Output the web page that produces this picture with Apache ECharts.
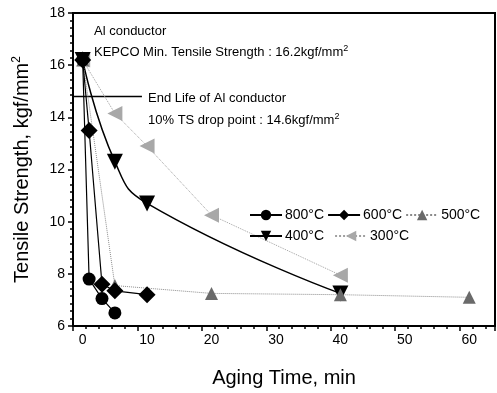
<!DOCTYPE html>
<html>
<head>
<meta charset="utf-8">
<script src="https://cdn.jsdelivr.net/npm/echarts@6/dist/echarts.min.js"></script>
<style>
  html, body { margin: 0; padding: 0; background: #fff; }
  #chart { width: 497px; height: 393px; }
</style>
</head>
<body>
<div id="chart"></div>
<script>
// aging time (min) / tensile strength (kgf/mm2)
const t800 = [0, 1, 3, 5]
const s800 = [16.2, 7.8, 7.05, 6.5]
const t600 = [0, 1, 3, 5, 10]
const s600 = [16.2, 13.5, 7.6, 7.35, 7.2]
const t500 = [0, 5, 20, 40, 60]
const s500 = [16.2, 7.55, 7.25, 7.2, 7.1]
const t400 = [0, 5, 10, 40]
const s400 = [16.2, 12.3, 10.7, 7.25]
const t300 = [0, 5, 10, 20, 40]
const s300 = [16.2, 14.15, 12.9, 10.25, 7.95]
const endLifeX = [-1.5, 9.2]
const endLifeY = 14.8

const pairs = (xs, ys) => xs.map((x, i) => [x, ys[i]])
const font = 'Liberation Sans, Arial, sans-serif'

const chart = echarts.init(document.getElementById('chart'))

const series = [
  {
    name: '300°C', data: pairs(t300, s300),
    symbol: 'triangle', symbolRotate: 90, symbolSize: 15,
    itemStyle: { color: '#a8a8a8' },
    lineStyle: { color: '#a0a0a0', width: 1, type: 'dotted' }
  },
  {
    name: '400°C', data: pairs(t400, s400),
    symbol: 'triangle', symbolRotate: 180, symbolSize: 16, smooth: 0.5,
    itemStyle: { color: '#000' },
    lineStyle: { color: '#000', width: 1.5 }
  },
  {
    name: '500°C', data: pairs(t500, s500),
    symbol: 'triangle', symbolSize: 13,
    itemStyle: { color: '#6a6a6a' },
    lineStyle: { color: '#8a8a8a', width: 1, type: 'dotted' }
  },
  {
    name: '600°C', data: pairs(t600, s600),
    symbol: 'diamond', symbolSize: 17,
    itemStyle: { color: '#000' },
    lineStyle: { color: '#000', width: 1.2 }
  },
  {
    name: '800°C', data: pairs(t800, s800),
    symbol: 'circle', symbolSize: 13,
    itemStyle: { color: '#000' },
    lineStyle: { color: '#000', width: 1.2 }
  },
  {
    name: 'endlife', data: endLifeX.map(x => [x, endLifeY]),
    symbol: 'none', lineStyle: { color: '#000', width: 1.5 }, z: 1
  }
].map(s => ({ type: 'line', showSymbol: s.symbol !== 'none', ...s }))

const legendText = { fontSize: 14, color: '#000', fontFamily: font, padding: [0, 0, 0, -2] }

chart.setOption({
  animation: false,
  textStyle: { fontFamily: font },
  grid: { left: 73, right: 2, top: 13, bottom: 65, show: true, borderColor: '#000', borderWidth: 2 },
  legend: [
    {
      data: ['800°C', '600°C', '500°C'], left: 244, top: 203, width: 260,
      itemWidth: 32, itemHeight: 13, itemGap: 3,
      textStyle: legendText
    },
    {
      data: ['400°C', '300°C'], left: 244, top: 224, width: 260,
      itemWidth: 32, itemHeight: 13, itemGap: 10,
      textStyle: legendText
    }
  ],
  xAxis: {
    type: 'value', min: -1.5, max: 64, interval: 10,
    name: 'Aging Time, min', nameLocation: 'middle', nameGap: 42,
    nameTextStyle: { fontSize: 20, color: '#000', fontFamily: font },
    axisLine: { onZero: false, lineStyle: { color: '#000', width: 2 } },
    axisTick: { show: true, length: 5, lineStyle: { color: '#000', width: 1.5 } },
    minorTick: { show: true, splitNumber: 5, length: 3, lineStyle: { color: '#000', width: 1.5 } },
    axisLabel: { fontSize: 14, color: '#000', margin: 7, customValues: [0, 10, 20, 30, 40, 50, 60] },
    splitLine: { show: false }
  },
  yAxis: {
    type: 'value', min: 6, max: 18, interval: 2,
    name: 'Tensile Strength, kgf/mm{s|2}', nameLocation: 'middle', nameGap: 40, nameRotate: 90,
    nameTextStyle: {
      fontSize: 20, color: '#000', fontFamily: font,
      rich: { s: { fontSize: 12, verticalAlign: 'top', color: '#000', fontFamily: font, padding: [0, 0, 10, 0] } }
    },
    axisLine: { onZero: false, lineStyle: { color: '#000', width: 2 } },
    axisTick: { show: true, length: 5, lineStyle: { color: '#000', width: 1.5 } },
    minorTick: { show: true, splitNumber: 7, length: 3, lineStyle: { color: '#000', width: 1.5 } },
    axisLabel: { fontSize: 14, color: '#000', margin: 8 },
    splitLine: { show: false }
  },
  graphic: [
    { type: 'text', left: 94, top: 25, style: { text: 'Al conductor', font: '13px ' + font, fill: '#000' } },
    {
      type: 'text', left: 94, top: 44,
      style: {
        text: 'KEPCO Min. Tensile Strength : 16.2kgf/mm{s|2}', font: '13px ' + font, fill: '#000',
        rich: { s: { fontSize: 9, verticalAlign: 'top', fill: '#000', padding: [0, 0, 8, 0] } }
      }
    },
    { type: 'text', left: 148, top: 92, style: { text: 'End Life of Al conductor', font: '13px ' + font, fill: '#000' } },
    {
      type: 'text', left: 148, top: 112,
      style: {
        text: '10% TS drop point : 14.6kgf/mm{s|2}', font: '13px ' + font, fill: '#000',
        rich: { s: { fontSize: 9, verticalAlign: 'top', fill: '#000', padding: [0, 0, 8, 0] } }
      }
    }
  ],
  series
})
</script>
</body>
</html>
